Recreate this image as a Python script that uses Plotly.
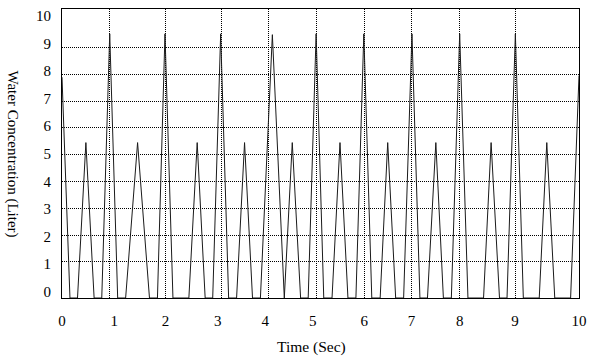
import plotly.graph_objects as go

# Data
time_s = [0, 0.154, 0.300, 0.462, 0.621, 0.769, 0.923, 1.077, 1.231, 1.462, 1.692, 1.846,
          1.992, 2.146, 2.454, 2.615, 2.769, 2.915, 3.069, 3.223, 3.377, 3.531, 3.685, 3.838,
          4.069, 4.300, 4.454, 4.615, 4.762, 4.915, 5.063, 5.223, 5.377, 5.531, 5.685, 5.838,
          5.992, 6.154, 6.300, 6.454, 6.608, 6.769, 6.923, 7.069, 7.231, 7.377, 7.531, 7.692,
          7.852, 8.154, 8.300, 8.462, 8.608, 8.769, 8.923, 9.231, 9.377, 9.531, 9.838, 10.0]
concentration = [8.0, 0, 0, 5.63, 0, 0, 9.57, 0, 0, 5.63, 0, 0, 9.57, 0, 0, 5.63, 0, 0,
                 9.57, 0, 0, 5.63, 0, 0, 9.54, 0, 5.63, 0, 0, 9.57, 0, 0, 5.63, 0, 0, 9.57,
                 0, 0, 5.63, 0, 0, 9.57, 0, 0, 5.63, 0, 0, 9.57, 0, 0, 5.63, 0, 0, 9.57,
                 0, 0, 5.63, 0, 0, 8.06]

x_tick_labels = ["0", "1", "2", "3", "4", "5", "6", "7", "8", "9", "10"]
x_label_pos = [0, 1.012, 2.0, 3.012, 3.929, 4.852, 5.846, 6.762, 7.692, 8.762, 10]
x_grid_pos = [0.915, 2.0, 3.077, 4.0, 4.915, 5.846, 6.762, 7.692, 8.762]

y_tick_labels = ["0", "1", "2", "3", "4", "5", "6", "7", "8", "9", "10"]
y_label_pos = [k + 0.228 for k in range(11)]
y_grid_pos = [1.319, 2.252, 3.227, 4.203, 5.193, 6.169, 7.12, 8.085, 9.06]

FONT = "Liberation Serif"
GRID_DASH = "1px,1px"

fig = go.Figure()
fig.add_trace(go.Scatter(
    x=time_s, y=concentration, mode="lines",
    line=dict(color="#1a1a1a", width=1),
    showlegend=False, hoverinfo="skip",
))

fig.update_layout(
    width=595, height=358,
    margin=dict(l=62, r=13, t=8, b=60),
    paper_bgcolor="white", plot_bgcolor="white",
    font=dict(family=FONT, size=15, color="black"),
    xaxis=dict(
        range=[0, 10], tickmode="array", tickvals=x_label_pos, ticktext=x_tick_labels,
        showgrid=False, zeroline=False, showline=True, mirror=True,
        linecolor="black", linewidth=1,
        ticks="outside", ticklen=9, tickcolor="rgba(0,0,0,0)",
        tickfont=dict(family=FONT, size=15),
        minor=dict(tickmode="array", tickvals=x_grid_pos, showgrid=True,
                   gridcolor="black", griddash=GRID_DASH, gridwidth=1, ticks=""),
    ),
    yaxis=dict(
        range=[0, 10.47], tickmode="array", tickvals=y_label_pos, ticktext=y_tick_labels,
        showgrid=False, zeroline=False, showline=True, mirror=True,
        linecolor="black", linewidth=1,
        ticks="outside", ticklen=7, tickcolor="rgba(0,0,0,0)",
        tickfont=dict(family=FONT, size=15),
        minor=dict(tickmode="array", tickvals=y_grid_pos, showgrid=True,
                   gridcolor="black", griddash=GRID_DASH, gridwidth=1, ticks=""),
    ),
    annotations=[
        dict(text="Time (Sec)", xref="paper", yref="paper", x=0.483, y=0,
             yshift=-49, showarrow=False, font=dict(family=FONT, size=15.5),
             xanchor="center", yanchor="middle"),
        dict(text="Water Concentration (Liter)", xref="paper", yref="paper", x=0, y=0.5,
             xshift=-50, showarrow=False, textangle=90, font=dict(family=FONT, size=15),
             xanchor="center", yanchor="middle"),
    ],
)

# Remove the default page margin so the figure sits at the window's top-left corner.
fig.write_html("out.html", config={"displayModeBar": False},
               post_script="document.body.style.margin='0';")
